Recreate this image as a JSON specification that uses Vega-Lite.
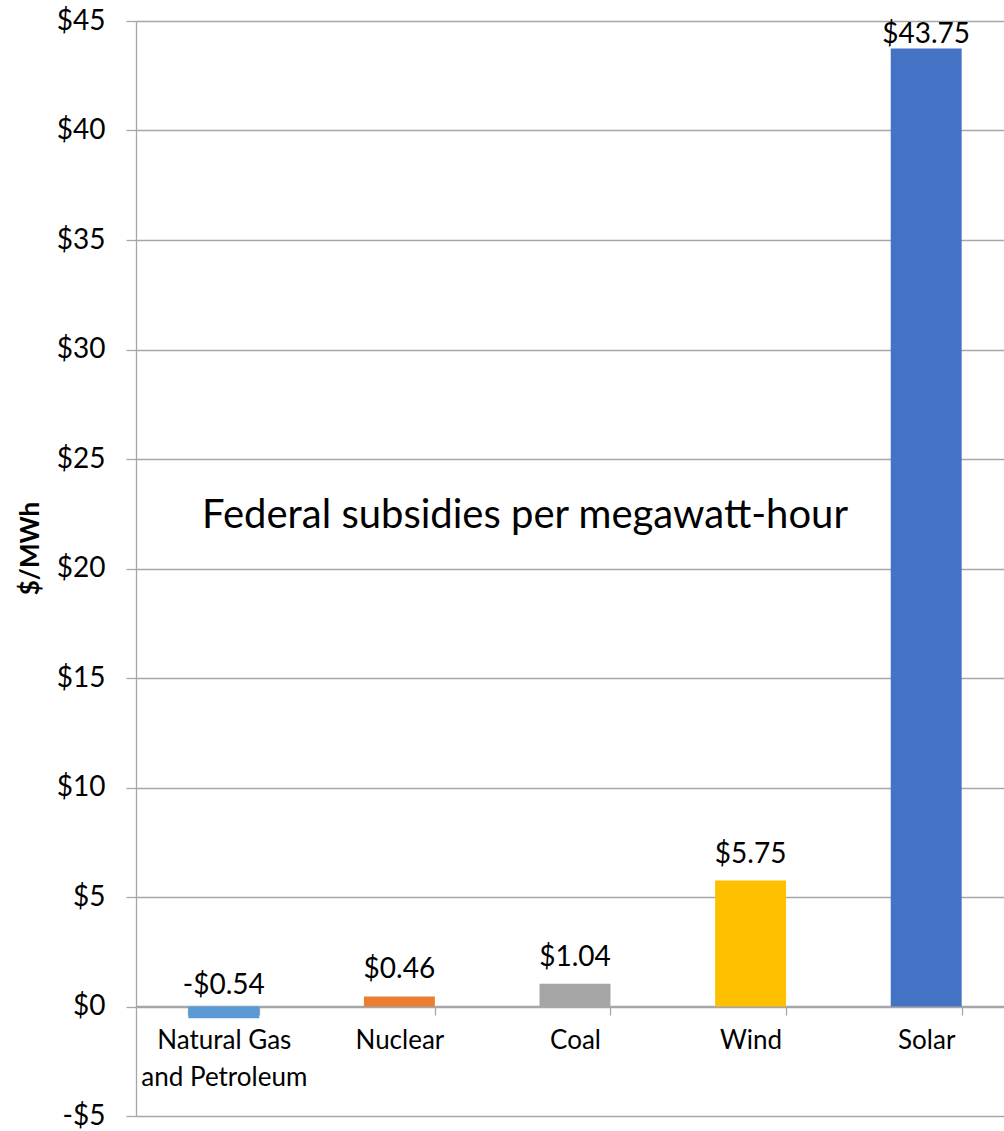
{
  "$schema": "https://vega.github.io/schema/vega-lite/v6.json",
  "width": 868,
  "height": 1095,
  "autosize": {"type": "none"},
  "padding": {"left": 136, "top": 21, "right": 0, "bottom": 15},
  "background": "white",
  "config": {
    "font": "Lato",
    "view": {"stroke": null}
  },
  "data": {
    "values": [
      {"source": "Natural Gas and Petroleum", "value": -0.54, "label": "-$0.54", "pos": "neg"},
      {"source": "Nuclear", "value": 0.46, "label": "$0.46", "pos": "pos"},
      {"source": "Coal", "value": 1.04, "label": "$1.04", "pos": "pos"},
      {"source": "Wind", "value": 5.75, "label": "$5.75", "pos": "pos"},
      {"source": "Solar", "value": 43.75, "label": "$43.75", "pos": "top"}
    ]
  },
  "encoding": {
    "x": {
      "field": "source",
      "type": "nominal",
      "sort": null,
      "scale": {"range": [0, 878], "paddingInner": 0.596, "paddingOuter": 0.298},
      "axis": {
        "title": null,
        "orient": "bottom",
        "offset": -110,
        "labelAngle": 0,
        "labelFontSize": 26,
        "labelColor": "#000000",
        "labelPadding": 12,
        "labelLineHeight": 37,
        "labelExpr": "datum.value == 'Natural Gas and Petroleum' ? ['Natural Gas', 'and Petroleum'] : datum.value",
        "tickBand": "extent",
        "tickSize": 9,
        "tickColor": "#A6A6A6",
        "tickWidth": 1.3,
        "domainColor": "#A6A6A6",
        "domainWidth": 1.3,
        "grid": false
      }
    }
  },
  "layer": [
    {
      "mark": {"type": "bar"},
      "encoding": {
        "y": {
          "field": "value",
          "type": "quantitative",
          "scale": {"domain": [-5, 45], "nice": false, "zero": false},
          "axis": {
            "title": "$/MWh",
            "titleFontSize": 26,
            "titleFontWeight": "bold",
            "titleColor": "#000000",
            "titleX": -106,
            "titleY": 527,
            "titleBaseline": "middle",
            "titleAlign": "center",
            "titleAngle": -90,
            "values": [-5, 0, 5, 10, 15, 20, 25, 30, 35, 40, 45],
            "labelExpr": "datum.value < 0 ? '-$' + abs(datum.value) : '$' + datum.value",
            "labelFontSize": 28,
            "labelColor": "#000000",
            "labelPadding": 21,
            "tickSize": 10,
            "tickColor": "#A6A6A6",
            "tickWidth": 1.3,
            "domainColor": "#A6A6A6",
            "domainWidth": 1.3,
            "grid": true,
            "gridColor": "#A6A6A6",
            "gridWidth": 1.3
          }
        },
        "color": {
          "field": "source",
          "type": "nominal",
          "sort": null,
          "scale": {
            "domain": ["Natural Gas and Petroleum", "Nuclear", "Coal", "Wind", "Solar"],
            "range": ["#5B9BD5", "#ED7D31", "#A5A5A5", "#FFC000", "#4472C4"]
          },
          "legend": null
        }
      }
    },
    {
      "transform": [{"filter": "datum.pos == 'pos'"}],
      "mark": {"type": "text", "fontSize": 28, "baseline": "alphabetic", "dy": -18, "color": "#000000"},
      "encoding": {
        "y": {"field": "value", "type": "quantitative"},
        "text": {"field": "label"}
      }
    },
    {
      "transform": [{"filter": "datum.pos == 'top'"}],
      "mark": {"type": "text", "fontSize": 28, "baseline": "alphabetic", "dy": -5, "color": "#000000"},
      "encoding": {
        "y": {"field": "value", "type": "quantitative"},
        "text": {"field": "label"}
      }
    },
    {
      "transform": [{"filter": "datum.pos == 'neg'"}],
      "mark": {"type": "text", "fontSize": 28, "baseline": "alphabetic", "dy": -13, "color": "#000000"},
      "encoding": {
        "y": {"datum": 0, "type": "quantitative"},
        "text": {"field": "label"}
      }
    },
    {
      "data": {"values": [{"title": "Federal subsidies per megawatt-hour"}]},
      "mark": {"type": "text", "fontSize": 40, "baseline": "middle", "align": "center", "dx": -50, "color": "#000000"},
      "encoding": {
        "x": {"datum": "Coal"},
        "y": {"datum": 22.4, "type": "quantitative"},
        "text": {"field": "title"}
      }
    }
  ]
}
